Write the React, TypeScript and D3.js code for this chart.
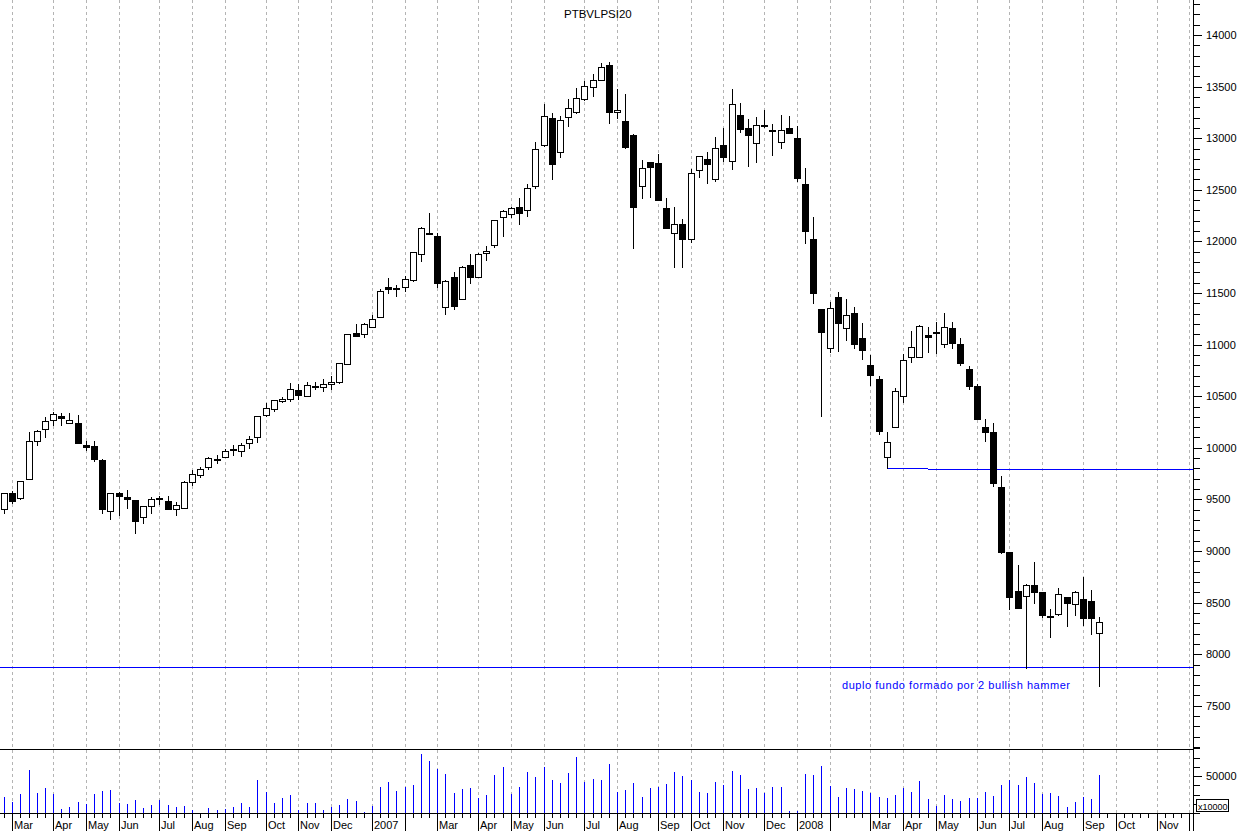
import React from "react";
import * as d3 from "d3";

const TITLE = "PTBVLPSI20";
const NOTE = "duplo fundo formado por 2 bullish hammer";

const openP = [9404,9559,9514,9694,10069,10179,10269,10311,10237,10237,10024,10017,9882,9391,9559,9520,9494,9330,9436,9505,9481,9404,9420,9669,9733,9811,9882,9908,9982,9969,10043,10108,10315,10373,10450,10473,10557,10502,10590,10586,10615,10637,10809,11109,11099,11170,11264,11555,11548,11561,11626,11875,12078,12052,11367,11655,11438,11768,11658,11884,11962,12233,12265,12334,12301,12540,12931,13193,12863,13203,13257,13377,13500,13564,13710,13251,13167,13031,12534,12767,12757,12321,12079,12169,12027,12692,12799,12602,12934,12779,13222,13096,12951,13119,13077,12963,13096,12999,12553,12023,11345,10970,11458,11157,11303,11060,10799,10663,9914,10198,10505,10876,10876,11093,11112,11002,11157,11005,10760,10599,10205,10150,9617,8987,8612,8567,8671,8603,8367,8393,8554,8483,8532,8516,8202];
const highP = [9565,9585,9675,10156,10172,10302,10344,10334,10334,10318,10066,10066,9888,9559,9575,9591,9494,9439,9527,9533,9530,9475,9682,9782,9817,9908,9927,9985,10024,10043,10114,10308,10431,10463,10496,10625,10620,10641,10637,10663,10696,10825,11099,11199,11206,11287,11535,11642,11574,11665,11894,12136,12272,12078,11626,11703,11761,11878,11884,11955,12204,12304,12336,12424,12557,12963,13332,13248,13215,13377,13490,13555,13622,13732,13735,13474,13429,13038,12789,12773,12847,12418,12331,12217,12699,12825,12870,13009,13099,13474,13338,13186,13203,13274,13138,13222,13215,13119,12708,12236,11345,11416,11506,11438,11361,11209,10899,10695,10153,10576,10905,11131,11190,11173,11222,11309,11219,11060,10790,10620,10279,10237,9724,8987,8864,8680,8893,8603,8435,8638,8554,8612,8751,8619,8357];
const lowP = [9371,9468,9507,9694,10030,10108,10218,10221,10237,10043,9979,9869,9371,9307,9349,9413,9178,9275,9371,9455,9404,9352,9420,9636,9714,9791,9856,9908,9927,9921,9998,10056,10308,10360,10444,10450,10469,10502,10573,10553,10573,10631,10809,11086,11077,11170,11264,11497,11471,11523,11619,11813,12068,11561,11300,11348,11438,11600,11658,11820,11949,12055,12233,12166,12250,12521,12925,12608,12821,13119,13248,13371,13409,13564,13151,13193,12902,11940,12424,12434,12402,12127,11749,11749,11998,12628,12569,12589,12783,12699,13060,12734,12773,13112,12841,12909,13048,12589,11988,11406,10311,10931,10941,11044,10963,10860,10608,10133,9801,10198,10447,10834,10876,10925,10921,10980,10970,10800,10567,10275,10069,9630,8980,8441,8451,7863,8499,8364,8170,8380,8277,8380,8283,8193,7695];
const closeP = [9559,9488,9675,10063,10163,10256,10328,10286,10266,10050,10011,9895,9404,9559,9530,9501,9294,9439,9501,9510,9404,9449,9669,9749,9791,9901,9891,9972,9988,10027,10088,10308,10382,10463,10470,10567,10508,10605,10600,10615,10637,10818,11099,11086,11196,11248,11519,11542,11545,11632,11894,12126,12068,11600,11616,11374,11752,11658,11878,11907,12204,12291,12320,12272,12515,12899,13212,12754,13173,13290,13387,13506,13564,13687,13257,13274,12918,12337,12712,12725,12402,12127,12166,12027,12660,12825,12754,12902,12821,13332,13093,13028,13125,13125,13076,13077,13048,12618,12104,11503,11125,11358,11212,11283,11002,10951,10708,10166,10053,10547,10850,10980,11183,11076,11118,11173,11012,10818,10602,10282,10156,9662,8990,8551,8451,8667,8606,8380,8360,8580,8493,8603,8354,8354,8309];
const volume = [21600,14850,25650,58050,27000,33750,25650,5400,8100,14850,12600,25650,29700,31050,13500,12150,17550,6750,10800,17550,10800,8100,9450,4050,0,6750,4050,5400,8100,13500,8100,44550,28350,13500,20250,24300,4050,13500,13500,4050,8100,10800,18900,16200,1350,9450,35100,41850,29700,35100,37800,79650,70200,59400,52650,27000,32400,33750,20250,24300,51300,62100,25650,35100,55350,48600,62100,44550,40500,54000,75600,41850,45900,44550,66150,28350,31050,40500,21600,33750,35100,39150,55350,49950,44550,28350,27000,41850,37800,56700,51300,32400,33750,27000,35100,35100,2700,2700,52650,51300,63450,36900,21600,33750,32400,29700,27450,21600,20250,24300,33750,28350,43200,18900,9450,24300,18900,16200,20250,20250,28350,22950,37800,44550,37800,48600,40500,25650,27000,22950,8100,14850,21600,18900,51300];

const priceTicks = [7500, 8000, 8500, 9000, 9500, 10000, 10500, 11000, 11500, 12000, 12500, 13000, 13500, 14000];
const volTickLabel = 50000;
const supportLevel = 7876;
const necklineStart = 108; // week index of the low that starts the line
const necklineBreak = 113;
const necklineLevels = [9805, 9795];
const monthNames = ["Jan","Feb","Mar","Apr","May","Jun","Jul","Aug","Sep","Oct","Nov","Dec"];

const W = 1242, H = 831;
const AXIS_X = 1193.5;
const FONT = "'Liberation Sans', Arial, sans-serif";

export default function App() {
  const weeks = d3.timeFriday.range(new Date(2006, 1, 24), new Date(2008, 11, 6));
  const x = d3.scalePoint<Date>().domain(weeks).range([4.1, 1189.2]);
  const y = d3.scaleLinear().domain([7500, 14000]).range([705.8, 35]);
  const yv = d3.scaleLinear().domain([0, 50000]).range([813, 776]);
  const px = (i: number) => Math.round(x(weeks[i]) as number);

  const months: { i: number; label: string }[] = [];
  for (let i = 1; i < weeks.length; i++) {
    if (weeks[i].getMonth() !== weeks[i - 1].getMonth()) {
      const m = weeks[i].getMonth();
      const label = m === 0 ? String(weeks[i].getFullYear()) : m === 1 ? "" : monthNames[m];
      months.push({ i, label });
    }
  }

  const minorPrice = d3.range(7100, 14400, 100);
  const volMinor = d3.range(0, 90000, 12500);
  const cr = (v: number) => Math.round(v) + 0.5;

  return (
    <div style={{ position: "absolute", left: 0, top: 0 }}>
      <svg width={W} height={H} style={{ display: "block", background: "#fff" }} fontFamily={FONT}>
        <rect x={0} y={0} width={W} height={H} fill="#fff" />
        {/* month gridlines */}
        {months.map((m) => (
          <line key={"g" + m.i} x1={px(m.i) + 0.5} x2={px(m.i) + 0.5} y1={0} y2={813}
            stroke="#b4b4b4" strokeDasharray="3,3" shapeRendering="crispEdges" />
        ))}
        {/* title */}
        <text x={564} y={18} fontSize={11.5} fill="#000">{TITLE}</text>

        {/* lines */}
        <line x1={0} x2={AXIS_X} y1={cr(y(supportLevel))} y2={cr(y(supportLevel))} stroke="#0000ff" shapeRendering="crispEdges" />
        <line x1={px(necklineStart)} x2={px(necklineBreak)} y1={cr(y(necklineLevels[0]))} y2={cr(y(necklineLevels[0]))} stroke="#0000ff" shapeRendering="crispEdges" />
        <line x1={px(necklineBreak)} x2={AXIS_X} y1={cr(y(necklineLevels[1]))} y2={cr(y(necklineLevels[1]))} stroke="#0000ff" shapeRendering="crispEdges" />

        {/* candles */}
        {openP.map((o, i) => {
          const c = closeP[i];
          const cx = px(i) + 0.5;
          const up = c >= o;
          const top = Math.round(y(Math.max(o, c)));
          const bot = Math.round(y(Math.min(o, c)));
          const h = Math.max(1, bot - top);
          return (
            <g key={"c" + i} shapeRendering="crispEdges">
              <line x1={cx} x2={cx} y1={Math.round(y(highP[i]))} y2={Math.round(y(lowP[i])) + 1} stroke="#000" />
              <rect x={cx - 3} y={top + 0.5} width={6} height={h} fill={up ? "#fff" : "#000"} stroke="#000" />
            </g>
          );
        })}

        <text x={842} y={689} fontSize={11} fill="#0000ff" textLength={228} lengthAdjust="spacing">{NOTE}</text>

        {/* panel separators */}
        <line x1={0} x2={AXIS_X} y1={749.5} y2={749.5} stroke="#000" shapeRendering="crispEdges" />
        <line x1={0} x2={AXIS_X} y1={813.5} y2={813.5} stroke="#000" shapeRendering="crispEdges" />

        {/* volume */}
        {volume.map((v, i) => (
          v > 0 ? <line key={"v" + i} x1={px(i) + 0.5} x2={px(i) + 0.5} y1={Math.round(yv(v))} y2={813}
            stroke="#0000ff" shapeRendering="crispEdges" /> : null
        ))}

        {/* x axis ticks */}
        {weeks.map((w, i) => (
          <line key={"t" + i} x1={px(i) + 0.5} x2={px(i) + 0.5} y1={814} y2={818} stroke="#000" shapeRendering="crispEdges" />
        ))}
        {months.map((m) => (
          <g key={"m" + m.i}>
            <line x1={px(m.i) + 0.5} x2={px(m.i) + 0.5} y1={814} y2={831} stroke="#000" shapeRendering="crispEdges" />
            {m.label && px(m.i) < 1180 ? (
              <text x={px(m.i) + 2} y={829} fontSize={11} fill="#000">{m.label}</text>
            ) : null}
          </g>
        ))}

        {/* right axis */}
        <line x1={AXIS_X} x2={AXIS_X} y1={0} y2={H} stroke="#000" shapeRendering="crispEdges" />
        {minorPrice.map((v) => (
          <line key={"pm" + v} x1={AXIS_X} x2={AXIS_X + (v % 500 === 0 ? 8 : 6)} y1={cr(y(v))} y2={cr(y(v))} stroke="#000" shapeRendering="crispEdges" />
        ))}
        {priceTicks.map((v) => (
          <text key={"pl" + v} x={1206} y={Math.round(y(v)) + 4} fontSize={11} fill="#000">{v}</text>
        ))}
        {volMinor.map((v) => (
          yv(v) > 747 ? <line key={"vm" + v} x1={AXIS_X} x2={AXIS_X + (v === volTickLabel ? 8 : 6)} y1={cr(yv(v))} y2={cr(yv(v))} stroke="#000" shapeRendering="crispEdges" /> : null
        ))}
        <text x={1206} y={Math.round(yv(volTickLabel)) + 4} fontSize={11} fill="#000">{volTickLabel}</text>
        <rect x={1196.5} y={799.5} width={32} height={12} fill="#fff" stroke="#000" shapeRendering="crispEdges" />
        <text x={1198} y={809.5} fontSize={9} fill="#000">x10000</text>
      </svg>
    </div>
  );
}
